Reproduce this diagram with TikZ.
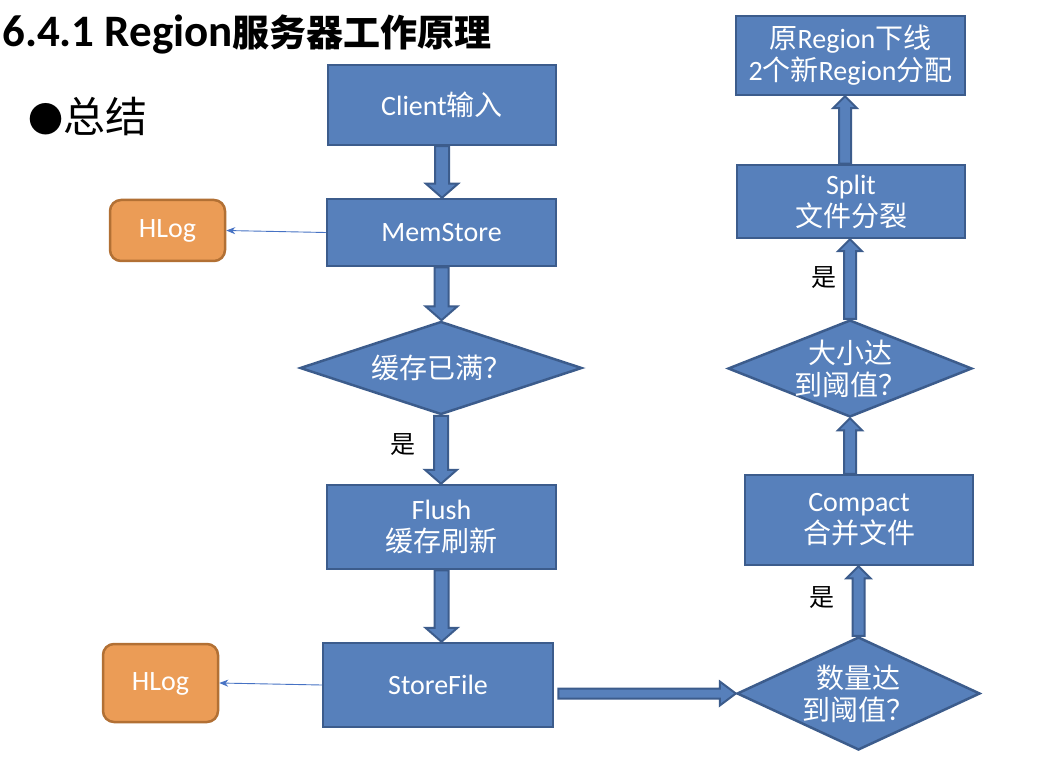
\documentclass[tikz,border=0pt]{standalone}
\usepackage{fontspec}
\setmainfont{Carlito}
\newfontfamily\cjk{Noto Sans CJK SC}
\usetikzlibrary{shapes.geometric,calc,arrows.meta}
\definecolor{bfill}{RGB}{87,128,187}
\definecolor{bline}{RGB}{60,92,140}
\definecolor{ofill}{RGB}{235,156,86}
\definecolor{oline}{RGB}{178,112,52}
\definecolor{thinblue}{RGB}{70,114,196}
\newcommand{\zh}[1]{{\cjk #1}}
% shaft half width, head half width, head length, start, end
\newcommand{\barrow}[5]{%
  \coordinate (bs) at #4;
  \coordinate (be) at #5;
  \coordinate (bh) at ($(be)!#3!(bs)$);
  \filldraw[blockarr] ($(bs)!#1!90:(be)$) -- ($(bh)!#1!90:(be)$) -- ($(bh)!#2!90:(be)$) -- (be)
    -- ($(bh)!#2!-90:(be)$) -- ($(bh)!#1!-90:(be)$) -- ($(bs)!#1!-90:(be)$) -- cycle;}
\tikzset{
  box/.style={draw=bline, fill=bfill, line width=2.5pt, text=white, align=center,
    inner sep=0pt, font=\fontsize{28}{32}\selectfont},
  logbox/.style={draw=oline, fill=ofill, line width=2.5pt, rounded corners=11pt, text=white,
    inner sep=0pt, minimum width=115pt, text depth=3pt, font=\fontsize{28}{32}\selectfont},
  dia/.style={diamond, draw=bline, fill=bfill, line width=2.5pt, inner sep=0pt, aspect=3},
  diatext/.style={text=white, align=center, font=\fontsize{28}{32}\selectfont\cjk},
  blockarr/.style={draw=bline, fill=bfill, line width=2pt, line join=miter},
  thinarr/.style={draw=thinblue, line width=0.9pt, -{Stealth[length=9pt,width=7pt]}},
  yes/.style={text=black, font=\fontsize{25}{25}\selectfont\cjk, inner sep=0pt}
}
\begin{document}
\begin{tikzpicture}[x=1pt,y=-1pt]
\useasboundingbox[fill=white] (0,0) rectangle (1054,759);

% title and heading
\node[anchor=base west, inner sep=0pt] (title) at (2,47)
  {{\fontsize{45}{45}\selectfont\bfseries 6.4.1 Region}{\cjk\fontsize{37}{37}\selectfont\bfseries 服务器工作原理}};
\node[anchor=base west, inner sep=0pt] (sum) at (28,133)
  {\cjk{\fontsize{35}{35}\selectfont ●}\fontsize{42}{42}\selectfont 总结};

% left column
\node[box, minimum width=228pt, minimum height=80pt] (client) at (442,105) {Client\zh{输入}};
\node[box, minimum width=229pt, minimum height=67pt] (mem) at (441.5,232.5) {MemStore};
\node[dia, minimum width=282pt, minimum height=93pt,
  label={[diatext]center:缓存已满？}] (full) at (441,368) {};
\node[box, minimum width=229pt, minimum height=84pt] (flush) at (441.5,527) {Flush\\\zh{缓存刷新}};
\node[box, minimum width=230pt, minimum height=84pt] (store) at (438,685) {StoreFile};

\node[logbox, minimum height=61pt] (hlog1) at (167.5,230.5) {HLog};
\node[logbox, minimum height=78pt] (hlog2) at (160.5,683) {HLog};

% right column
\node[dia, minimum width=243pt, minimum height=113pt,
  label={[diatext]center:数量达\\到阈值？}] (cnt) at (858.5,693.5) {};
\node[box, minimum width=228pt, minimum height=90pt] (compact) at (859,520) {Compact\\\zh{合并文件}};
\node[dia, minimum width=244pt, minimum height=97pt,
  label={[diatext]center:大小达\\到阈值？}] (size) at (850,368.5) {};
\node[box, minimum width=228pt, minimum height=73pt] (split) at (851,201.5) {Split\\\zh{文件分裂}};
\node[box, minimum width=229pt, minimum height=79pt] (top) at (850.5,55.5)
  {\zh{原}Region\zh{下线}\\2\zh{个新}Region\zh{分配}};
\coordinate (splitout) at ($(split.north)+(-6,0)$);

% labels
\node[yes] (y1) at (403,445) {是};
\node[yes] (y2) at (824,278) {是};
\node[yes] (y3) at (822,598) {是};

% block arrows
\barrow{7pt}{16pt}{14pt}{(client.south)}{(client.south |- mem.north)}
\barrow{7pt}{16pt}{14pt}{(mem.south)}{(mem.south |- full.north)}
\barrow{7pt}{16pt}{14pt}{(full.south)}{(full.south |- flush.north)}
\barrow{7pt}{16pt}{14pt}{(flush.south)}{(flush.south |- store.north)}
\barrow{5pt}{12pt}{16pt}{($(store.east |- cnt.west)+(4,0)$)}{(cnt.west)}
\barrow{6pt}{12pt}{12pt}{(cnt.north)}{(cnt.north |- compact.south)}
\barrow{6pt}{12pt}{12pt}{(compact.north -| size.south)}{(size.south)}
\barrow{6pt}{12pt}{12pt}{(size.north)}{(size.north |- split.south)}
\barrow{6pt}{12pt}{12pt}{(splitout)}{(splitout |- top.south)}

% thin arrows
\draw[thinarr] (mem.west) -- (hlog1.east);
\draw[thinarr] (store.west) -- (hlog2.east);
\end{tikzpicture}
\end{document}
